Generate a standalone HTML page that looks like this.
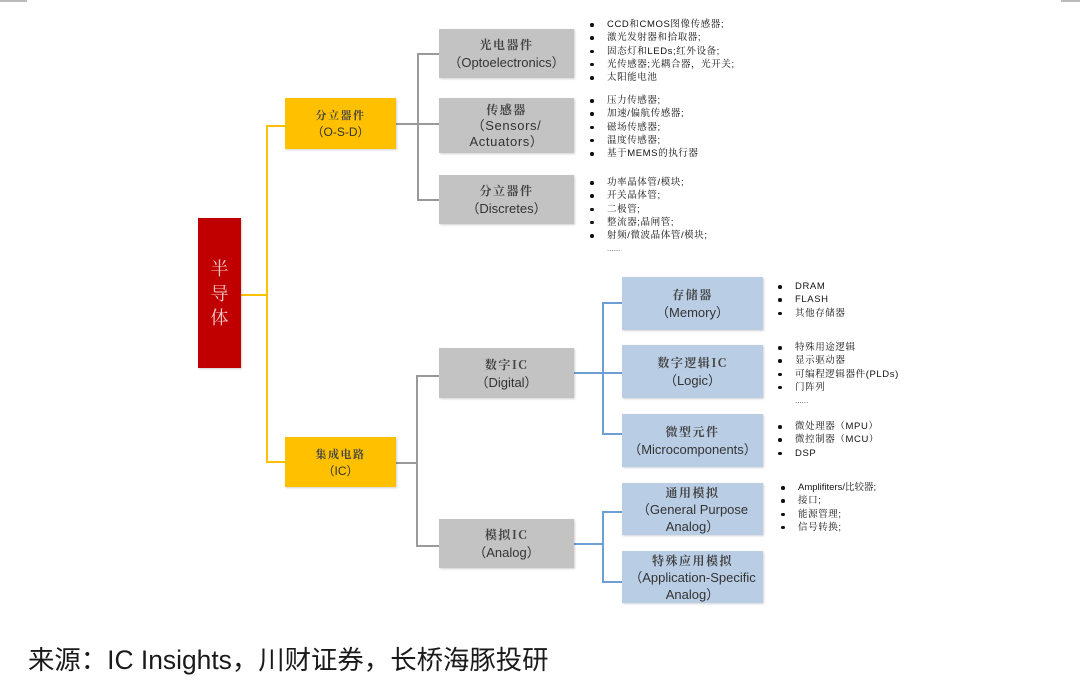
<!DOCTYPE html>
<html>
<head>
<meta charset="utf-8">
<style>
  html,body{margin:0;padding:0;background:#fff;}
  body{width:1080px;height:685px;position:relative;overflow:hidden;
       font-family:"Liberation Sans","Noto Sans CJK SC",sans-serif;}
  .box{position:absolute;display:flex;flex-direction:column;justify-content:center;align-items:center;
       text-align:center;color:#333;box-shadow:1px 1px 2px rgba(0,0,0,0.18);}
  .box .cn{font-family:"Noto Serif CJK SC","Noto Sans CJK SC",serif;font-size:12px;letter-spacing:1.5px;line-height:18px;font-weight:bold;color:#444;}
  .box .en{font-family:"Liberation Sans","Noto Sans CJK SC",sans-serif;font-size:13px;line-height:17px;color:#333;}
  .gray{background:#c3c3c3;}
  .blue{background:#b9cde5;}
  .yel{background:#ffc000;}
  .red{background:#c00000;}
  .ln{position:absolute;}
  .y{background:#ffc000;}
  .g{background:#9a9a9a;}
  .b{background:#6d9fd4;}
  .list{position:absolute;font-size:9.5px;line-height:13.3px;color:#111;
        font-family:"Liberation Sans","Noto Serif CJK SC",serif;white-space:nowrap;}
  .list div{position:relative;padding-left:17px;letter-spacing:0.6px;}
  .list div.bl::before{content:"";position:absolute;left:0;top:5px;width:3.5px;height:3.5px;border-radius:50%;background:#111;}
  .list div.dots{letter-spacing:0;font-size:8px;color:#555;}
</style>
</head>
<body>
<!-- top corner marks -->
<div class="ln" style="left:0;top:0;width:27px;height:1.5px;background:#bbb;"></div>
<div class="ln" style="left:1061px;top:0;width:19px;height:1.5px;background:#bbb;"></div>

<!-- yellow connectors -->
<div class="ln y" style="left:241px;top:294px;width:26px;height:2px;"></div>
<div class="ln y" style="left:266px;top:125px;width:2px;height:338px;"></div>
<div class="ln y" style="left:266px;top:125px;width:19px;height:2px;"></div>
<div class="ln y" style="left:266px;top:461px;width:19px;height:2px;"></div>

<!-- gray connectors top -->
<div class="ln g" style="left:396px;top:123px;width:43px;height:1.5px;"></div>
<div class="ln g" style="left:417px;top:53px;width:1.5px;height:147px;"></div>
<div class="ln g" style="left:417px;top:53px;width:22px;height:1.5px;"></div>
<div class="ln g" style="left:417px;top:199px;width:22px;height:1.5px;"></div>

<!-- gray connectors IC -->
<div class="ln g" style="left:396px;top:462px;width:22px;height:1.5px;"></div>
<div class="ln g" style="left:416px;top:375px;width:1.5px;height:172px;"></div>
<div class="ln g" style="left:416px;top:375px;width:23px;height:1.5px;"></div>
<div class="ln g" style="left:416px;top:545px;width:23px;height:1.5px;"></div>

<!-- blue connectors digital -->
<div class="ln b" style="left:574px;top:372px;width:48px;height:1.5px;"></div>
<div class="ln b" style="left:602px;top:302px;width:1.5px;height:133px;"></div>
<div class="ln b" style="left:602px;top:302px;width:20px;height:1.5px;"></div>
<div class="ln b" style="left:602px;top:433px;width:20px;height:1.5px;"></div>

<!-- blue connectors analog -->
<div class="ln b" style="left:574px;top:543px;width:29px;height:1.5px;"></div>
<div class="ln b" style="left:602px;top:511px;width:1.5px;height:72px;"></div>
<div class="ln b" style="left:602px;top:511px;width:20px;height:1.5px;"></div>
<div class="ln b" style="left:602px;top:581px;width:20px;height:1.5px;"></div>

<!-- red root -->
<div class="box red" style="left:198px;top:218px;width:43px;height:150px;">
  <div style="font-family:'Noto Serif CJK SC',serif;font-size:18px;line-height:24.5px;color:#f6c9c9;width:20px;">半<br>导<br>体</div>
</div>

<!-- yellow -->
<div class="box yel" style="left:285px;top:98px;width:111px;height:51px;">
  <div class="cn" style="font-size:11px;">分立器件</div>
  <div class="en" style="font-size:12px;">（O-S-D）</div>
</div>
<div class="box yel" style="left:285px;top:437px;width:111px;height:50px;">
  <div class="cn" style="font-size:11px;">集成电路</div>
  <div class="en" style="font-size:12px;">（IC）</div>
</div>

<!-- gray boxes -->
<div class="box gray" style="left:439px;top:29px;width:135px;height:49px;">
  <div class="cn">光电器件</div>
  <div class="en">（Optoelectronics）</div>
</div>
<div class="box gray" style="left:439px;top:98px;width:135px;height:55px;">
  <div class="cn" style="line-height:16px;">传感器</div>
  <div class="en" style="line-height:15.5px;letter-spacing:0.6px;">（Sensors/</div>
  <div class="en" style="line-height:15.5px;letter-spacing:0.6px;">Actuators）</div>
</div>
<div class="box gray" style="left:439px;top:175px;width:135px;height:49px;">
  <div class="cn">分立器件</div>
  <div class="en">（Discretes）</div>
</div>
<div class="box gray" style="left:439px;top:348px;width:135px;height:50px;">
  <div class="cn">数字IC</div>
  <div class="en">（Digital）</div>
</div>
<div class="box gray" style="left:439px;top:519px;width:135px;height:49px;">
  <div class="cn">模拟IC</div>
  <div class="en">（Analog）</div>
</div>

<!-- blue boxes -->
<div class="box blue" style="left:622px;top:277px;width:141px;height:53px;">
  <div class="cn">存储器</div>
  <div class="en">（Memory）</div>
</div>
<div class="box blue" style="left:622px;top:345px;width:141px;height:53px;">
  <div class="cn">数字逻辑IC</div>
  <div class="en">（Logic）</div>
</div>
<div class="box blue" style="left:622px;top:414px;width:141px;height:53px;">
  <div class="cn">微型元件</div>
  <div class="en">（Microcomponents）</div>
</div>
<div class="box blue" style="left:622px;top:483px;width:141px;height:52px;">
  <div class="cn" style="line-height:17px;">通用模拟</div>
  <div class="en">（General Purpose</div>
  <div class="en">Analog）</div>
</div>
<div class="box blue" style="left:622px;top:551px;width:141px;height:52px;">
  <div class="cn" style="line-height:17px;">特殊应用模拟</div>
  <div class="en">（Application-Specific</div>
  <div class="en">Analog）</div>
</div>

<!-- bullet lists -->
<div class="list" style="left:590px;top:18px;">
  <div class="bl">CCD和CMOS图像传感器;</div>
  <div class="bl">激光发射器和拾取器;</div>
  <div class="bl">固态灯和LEDs;红外设备;</div>
  <div class="bl">光传感器;光耦合器，光开关;</div>
  <div class="bl">太阳能电池</div>
</div>
<div class="list" style="left:590px;top:94px;">
  <div class="bl">压力传感器;</div>
  <div class="bl">加速/偏航传感器;</div>
  <div class="bl">磁场传感器;</div>
  <div class="bl">温度传感器;</div>
  <div class="bl">基于MEMS的执行器</div>
</div>
<div class="list" style="left:590px;top:176px;">
  <div class="bl">功率晶体管/模块;</div>
  <div class="bl">开关晶体管;</div>
  <div class="bl">二极管;</div>
  <div class="bl">整流器;晶闸管;</div>
  <div class="bl">射频/微波晶体管/模块;</div>
  <div class="dots">......</div>
</div>
<div class="list" style="left:778px;top:280px;">
  <div class="bl">DRAM</div>
  <div class="bl">FLASH</div>
  <div class="bl">其他存储器</div>
</div>
<div class="list" style="left:778px;top:341px;">
  <div class="bl">特殊用途逻辑</div>
  <div class="bl">显示驱动器</div>
  <div class="bl">可编程逻辑器件(PLDs)</div>
  <div class="bl">门阵列</div>
  <div class="dots">......</div>
</div>
<div class="list" style="left:778px;top:420px;">
  <div class="bl">微处理器（MPU）</div>
  <div class="bl">微控制器（MCU）</div>
  <div class="bl">DSP</div>
</div>
<div class="list" style="left:781px;top:481px;">
  <div class="bl" style="letter-spacing:0;">Amplifiters/比较器;</div>
  <div class="bl">接口;</div>
  <div class="bl">能源管理;</div>
  <div class="bl">信号转换;</div>
</div>

<!-- footer -->
<div style="position:absolute;left:28px;top:644px;font-size:26.4px;line-height:32px;color:#1a1a1a;white-space:nowrap;font-family:'Liberation Sans','Noto Sans CJK SC',sans-serif;">来源：IC Insights，川财证券，长桥海豚投研</div>
</body>
</html>
